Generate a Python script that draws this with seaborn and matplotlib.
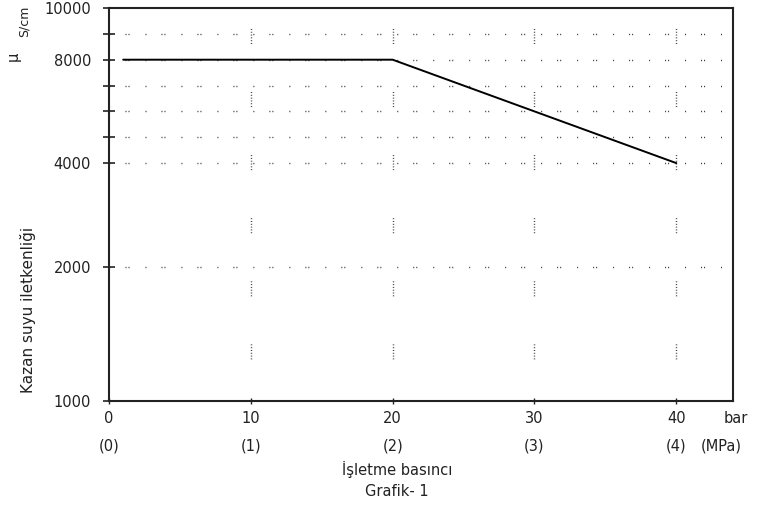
import numpy as np
import pandas as pd
import matplotlib
matplotlib.use('Agg')
import matplotlib.pyplot as plt
import matplotlib.ticker as mticker
import seaborn as sns

# data
pressure_bar = [1, 20, 40]
conductivity = [8000, 8000, 4000]

x_ticks = [0, 10, 20, 30, 40]
x_tick_labels = ['0', '10', '20', '30', '40']
mpa_labels = ['(0)', '(1)', '(2)', '(3)', '(4)']

y_major = [1000, 2000, 4000, 8000, 10000]
y_minor = [5000, 6000, 7000, 9000]
grid_levels = [2000, 4000, 5000, 6000, 7000, 8000, 9000]

# the printed axis is not a clean log scale: breakpoints of the paper scale
scale_vals = [1000, 2000, 4000, 10000]
scale_pos = [0, 133, 237, 391.5]


def fwd(v):
    return np.interp(v, scale_vals, scale_pos)


def inv(u):
    return np.interp(u, scale_pos, scale_vals)


sns.set_theme(style='white')
plt.rcParams['font.family'] = ['DejaVu Sans']
txt = '#222222'

fig = plt.figure(figsize=(7.58, 5.07), dpi=100)
ax = fig.add_axes([109 / 758, 1 - 401 / 507, 624 / 758, 393 / 507])

df = pd.DataFrame({'bar': pressure_bar, 'cond': conductivity})
sns.lineplot(data=df, x='bar', y='cond', color='black', lw=1.4, ax=ax, zorder=5)

ax.set_yscale('function', functions=(fwd, inv))
ax.set_ylim(1000, 10000)
ax.set_xlim(0, 44)

# dotted horizontal grid
for lv in grid_levels:
    ax.axhline(lv, color='#333333', lw=1,
               linestyle=(0, (0.72, 10.8, 0.72, 1.44, 0.72, 11.5)), zorder=1)
# short dotted vertical marks (6 dots, then a long gap)
vdash = (0.72, 1.3) * 5 + (0.72, 34.6)
for xv in x_ticks[1:]:
    ax.axvline(xv, color='#444444', lw=1, linestyle=(15.1, vdash), zorder=1)

ax.yaxis.set_major_locator(mticker.FixedLocator(y_major))
ax.yaxis.set_major_formatter(mticker.FixedFormatter([str(v) for v in y_major]))
ax.yaxis.set_minor_locator(mticker.FixedLocator(y_minor))
ax.yaxis.set_minor_formatter(mticker.NullFormatter())
ax.set_xticks(x_ticks)
ax.set_xticklabels(x_tick_labels)

ax.tick_params(axis='y', which='both', direction='inout', length=8, width=1.2,
               color='#222222', left=True, pad=9, labelsize=10.5, labelcolor=txt)
ax.tick_params(axis='x', direction='inout', length=4, width=1,
               color='#222222', bottom=True, pad=5, labelsize=10.5, labelcolor=txt)

for s in ax.spines.values():
    s.set_visible(True)
    s.set_color('#222222')
    s.set_linewidth(1.5)

ax.set_xlabel('')
ax.set_ylabel('')

# second row of x labels (MPa)
xtr = ax.get_xaxis_transform()
for xv, lab in zip(x_ticks, mpa_labels):
    ax.text(xv, -0.1145, lab, transform=xtr, ha='center', va='center',
            fontsize=10.5, color=txt, clip_on=False)
ax.text(44.2, -0.0458, 'bar', transform=xtr, ha='center', va='center',
        fontsize=10.5, color=txt, clip_on=False)
ax.text(43.2, -0.1145, '(MPa)', transform=xtr, ha='center', va='center',
        fontsize=10.5, color=txt, clip_on=False)

fig.text(397 / 758, 1 - 469 / 507, 'İşletme basıncı', ha='center', va='center',
         fontsize=10.5, color=txt)
fig.text(397 / 758, 1 - 492 / 507, 'Grafik- 1', ha='center', va='center',
         fontsize=10.5, color=txt)

fig.text(28 / 758, 1 - 310 / 507, 'Kazan suyu iletkenliği', rotation=90,
         ha='center', va='center', fontsize=11, color=txt)
fig.text(13 / 758, 1 - 56 / 507, 'μ', rotation=90, ha='center', va='center',
         fontsize=10.5, color=txt)
fig.text(24 / 758, 1 - 21 / 507, 'S/cm', rotation=90, ha='center', va='center',
         fontsize=9, color=txt)

fig.savefig('out.png', dpi=100)
